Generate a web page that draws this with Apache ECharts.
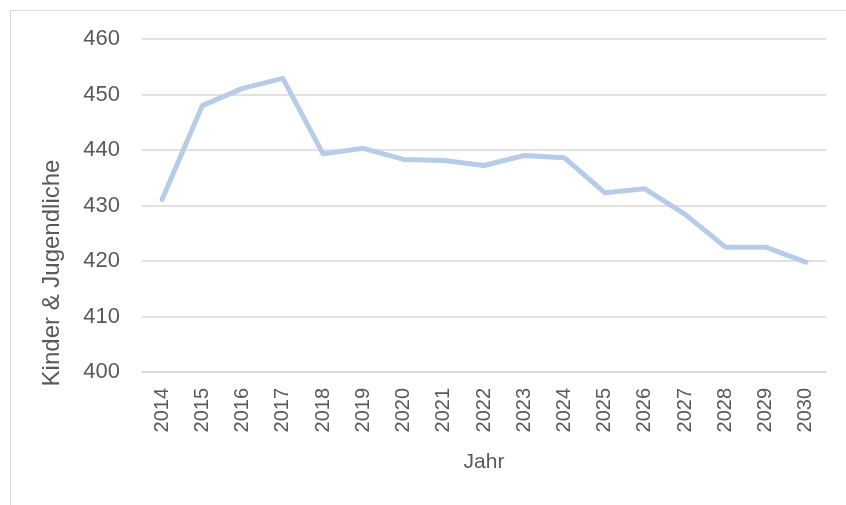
<!DOCTYPE html>
<html>
<head>
<meta charset="utf-8">
<script src="https://cdn.jsdelivr.net/npm/echarts@6/dist/echarts.min.js"></script>
<style>
  html, body { margin: 0; padding: 0; background: #fff; }
  #main { width: 846px; height: 505px; }
</style>
</head>
<body>
<div id="main"></div>
<script>
// Jahre (Kategorien)
var years = ['2014', '2015', '2016', '2017', '2018', '2019', '2020', '2021', '2022',
             '2023', '2024', '2025', '2026', '2027', '2028', '2029', '2030'];
// Kinder & Jugendliche
var kinder = [431.1, 448.0, 451.1, 452.9, 439.3, 440.3, 438.3, 438.1, 437.2,
              439.0, 438.6, 432.3, 433.0, 428.4, 422.5, 422.5, 419.8];

var FONT = '"Liberation Sans", Arial, sans-serif';
var TXT = '#595959';

var myChart = echarts.init(document.getElementById('main'));
var option = {
    animation: false,
    grid: { left: 142, right: 20, top: 39, bottom: 133 },
    // Rahmen + Achsentitel links
    graphic: [{
        type: 'rect',
        shape: { x: 10.5, y: 10.5, width: 900, height: 600 },
        style: { fill: 'none', stroke: '#d9d9d9', lineWidth: 1 },
        silent: true
    }, {
        type: 'text',
        x: 52, y: 273,
        rotation: Math.PI / 2,
        style: {
            text: 'Kinder & Jugendliche',
            font: '24px ' + FONT,
            fill: TXT,
            align: 'center',
            verticalAlign: 'middle'
        }
    }],
    xAxis: {
        type: 'category',
        data: years,
        boundaryGap: true,
        name: 'Jahr',
        nameLocation: 'middle',
        nameGap: 80,
        nameTextStyle: { color: TXT, fontSize: 21, fontFamily: FONT },
        axisLine: { lineStyle: { color: '#d9d9d9', width: 1.5 } },
        axisTick: { show: false },
        axisLabel: { rotate: 90, margin: 16, color: TXT, fontSize: 20, fontFamily: FONT }
    },
    yAxis: {
        type: 'value',
        min: 400, max: 460, interval: 10,
        axisLine: { show: false },
        axisTick: { show: false },
        axisLabel: { margin: 22, color: TXT, fontSize: 22, fontFamily: FONT },
        splitLine: { lineStyle: { color: '#d9d9d9', width: 1.5 } }
    },
    series: [{
        type: 'line',
        data: kinder,
        symbol: 'none',
        lineStyle: { color: '#b7cce8', width: 5, cap: 'round', join: 'round' }
    }]
};
myChart.setOption(option);
</script>
</body>
</html>
